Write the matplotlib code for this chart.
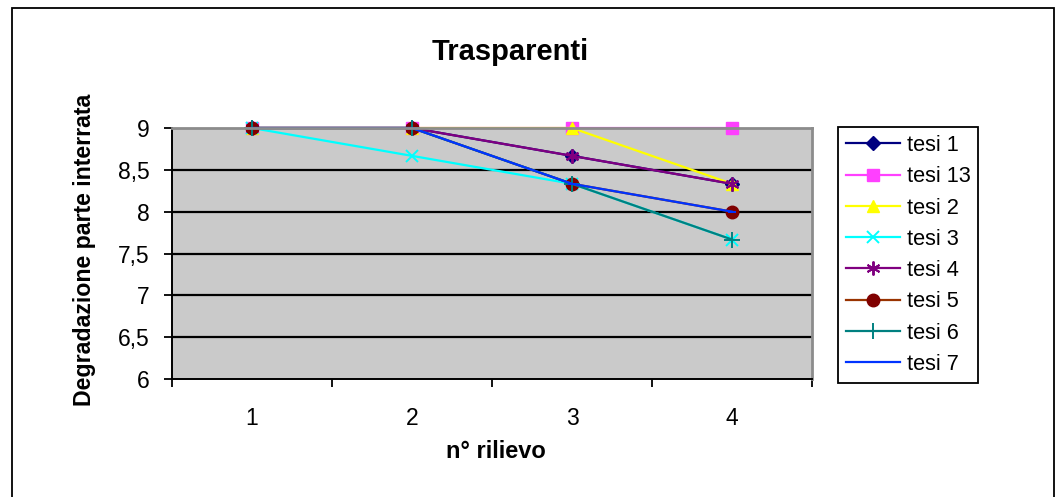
import matplotlib.pyplot as plt
from matplotlib.patches import Rectangle
from matplotlib.ticker import FuncFormatter, FixedLocator

plt.rcParams['font.family'] = ['Liberation Sans', 'DejaVu Sans']

rilievo = [1, 2, 3, 4]
tesi_1 = [9, 9, 8.667, 8.333]
tesi_13 = [9, 9, 9, 9]
tesi_2 = [9, 9, 9, 8.333]
tesi_3 = [9, 8.667, 8.333, 7.667]
tesi_4 = [9, 9, 8.667, 8.333]
tesi_5 = [9, 9, 8.333, 8]
tesi_6 = [9, 9, 8.333, 7.667]
tesi_7 = [9, 9, 8.333, 8]

# nome, valori, colore linea, marker, dimensione, colore marker
serie = [
    ("tesi 1", tesi_1, "#000080", "D", 7, "#000080"),
    ("tesi 13", tesi_13, "#FF40FF", "s", 8, "#FF40FF"),
    ("tesi 2", tesi_2, "#FFFF00", "^", 9, "#FFFF00"),
    ("tesi 3", tesi_3, "#00FFFF", "x", 9, "#00FFFF"),
    ("tesi 4", tesi_4, "#800080", (6, 2, 0), 10, "#800080"),
    ("tesi 5", tesi_5, "#993300", "o", 9, "#800000"),
    ("tesi 6", tesi_6, "#008080", "+", 11, "#008080"),
    ("tesi 7", tesi_7, "#0033FF", "_", 6, "#0033FF"),
]
senza_riempimento = ("x", "+", "_", (6, 2, 0))

W, H = 1060, 497
fig = plt.figure(figsize=(W / 100, H / 100), dpi=100)

# cornice esterna del grafico
fig.patches.append(Rectangle((12 / W, -0.05), 1042 / W, 1 - 8 / H + 0.05,
                             transform=fig.transFigure, fill=False,
                             edgecolor="black", linewidth=1.3))

ax = fig.add_axes([172 / W, 1 - 379 / H, 640 / W, 251 / H])
ax.set_facecolor("#CACACA")

for nome, valori, col, mk, ms, mcol in serie:
    if mk in senza_riempimento:
        ax.plot(rilievo, valori, color=col, linewidth=1.6, marker=mk, markersize=ms,
                markeredgecolor=mcol, markeredgewidth=1.4, label=nome, clip_on=False)
    else:
        ax.plot(rilievo, valori, color=col, linewidth=1.6, marker=mk, markersize=ms,
                markerfacecolor=mcol, markeredgecolor=mcol, label=nome, clip_on=False)

ax.set_xlim(0.5, 4.5)
ax.set_ylim(6, 9)
ax.set_xticks(rilievo)
ax.set_xticklabels([str(r) for r in rilievo])
ax.xaxis.set_minor_locator(FixedLocator([0.5, 1.5, 2.5, 3.5, 4.5]))
ax.tick_params(axis="x", which="major", length=0, pad=20, labelsize=16.5)
ax.tick_params(axis="x", which="minor", length=6, width=1.3, direction="out")
ax.set_yticks([6, 6.5, 7, 7.5, 8, 8.5, 9])
ax.yaxis.set_major_formatter(FuncFormatter(lambda v, p: f"{v:g}".replace(".", ",")))
ax.tick_params(axis="y", length=6, width=1.3, direction="out", pad=10, labelsize=16.5)

for y in [6.5, 7, 7.5, 8, 8.5]:
    ax.axhline(y, color="black", linewidth=1.6, zorder=1)

ax.spines["left"].set_color("black")
ax.spines["bottom"].set_color("black")
ax.spines["left"].set_linewidth(1.4)
ax.spines["bottom"].set_linewidth(1.4)
ax.spines["top"].set_color("#8C8C8C")
ax.spines["right"].set_color("#8C8C8C")
ax.spines["top"].set_linewidth(2)
ax.spines["right"].set_linewidth(2)

fig.text(510 / W, 1 - 52 / H, "Trasparenti", ha="center", va="center",
         fontsize=21, fontweight="bold")
fig.text(496 / W, 1 - 452 / H, "n° rilievo", ha="center", va="center",
         fontsize=17, fontweight="bold")
fig.text(85 / W, 1 - 250 / H, "Degradazione parte interrata", ha="center", va="center",
         rotation=90, fontsize=16.7, fontweight="bold")

leg = ax.legend(loc="center", bbox_to_anchor=(834 / W, 1 - 382 / H, 148 / W, 254 / H),
                bbox_transform=fig.transFigure, fontsize=15.7, handlelength=2.5,
                labelspacing=0.47, handletextpad=0.3, borderpad=0.35,
                fancybox=False, framealpha=1, edgecolor="black")
leg.get_frame().set_linewidth(1.3)

fig.savefig("out.png", dpi=100)
